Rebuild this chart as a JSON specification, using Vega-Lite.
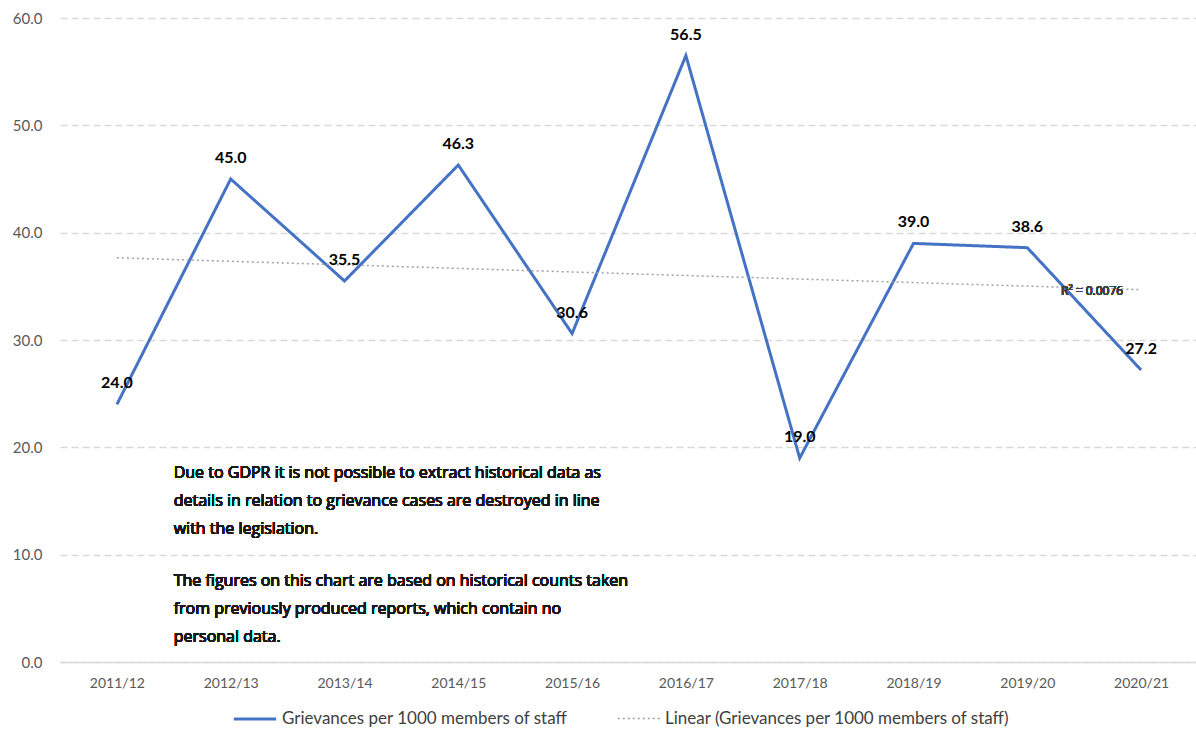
{
  "$schema": "https://vega.github.io/schema/vega-lite/v6.json",
  "autosize": {"type": "none"},
  "padding": {"left": 60, "top": 18, "right": 0, "bottom": 69},
  "width": 1138,
  "height": 644,
  "background": "white",
  "config": {
    "view": {"stroke": null},
    "font": "Lato",
    "axis": {"labelFont": "Lato", "labelColor": "#595959"},
    "legend": {
      "title": null,
      "orient": "none",
      "direction": "horizontal",
      "legendX": 172,
      "legendY": 678,
      "symbolType": "stroke",
      "symbolSize": 1800,
      "labelFontSize": 17,
      "labelFont": "Lato",
      "labelColor": "#404040",
      "columnPadding": 46,
      "labelLimit": 500
    }
  },
  "data": {
    "values": [
      {"year": "2011/12", "series": "Grievances per 1000 members of staff", "value": 24.0},
      {"year": "2012/13", "series": "Grievances per 1000 members of staff", "value": 45.0},
      {"year": "2013/14", "series": "Grievances per 1000 members of staff", "value": 35.5},
      {"year": "2014/15", "series": "Grievances per 1000 members of staff", "value": 46.3},
      {"year": "2015/16", "series": "Grievances per 1000 members of staff", "value": 30.6},
      {"year": "2016/17", "series": "Grievances per 1000 members of staff", "value": 56.5},
      {"year": "2017/18", "series": "Grievances per 1000 members of staff", "value": 19.0},
      {"year": "2018/19", "series": "Grievances per 1000 members of staff", "value": 39.0},
      {"year": "2019/20", "series": "Grievances per 1000 members of staff", "value": 38.6},
      {"year": "2020/21", "series": "Grievances per 1000 members of staff", "value": 27.2},
      {"year": "2011/12", "series": "Linear (Grievances per 1000 members of staff)", "value": 37.66},
      {"year": "2012/13", "series": "Linear (Grievances per 1000 members of staff)", "value": 37.33},
      {"year": "2013/14", "series": "Linear (Grievances per 1000 members of staff)", "value": 37.0},
      {"year": "2014/15", "series": "Linear (Grievances per 1000 members of staff)", "value": 36.67},
      {"year": "2015/16", "series": "Linear (Grievances per 1000 members of staff)", "value": 36.34},
      {"year": "2016/17", "series": "Linear (Grievances per 1000 members of staff)", "value": 36.01},
      {"year": "2017/18", "series": "Linear (Grievances per 1000 members of staff)", "value": 35.68},
      {"year": "2018/19", "series": "Linear (Grievances per 1000 members of staff)", "value": 35.35},
      {"year": "2019/20", "series": "Linear (Grievances per 1000 members of staff)", "value": 35.02},
      {"year": "2020/21", "series": "Linear (Grievances per 1000 members of staff)", "value": 34.69}
    ]
  },
  "encoding": {
    "x": {
      "field": "year",
      "type": "nominal",
      "sort": null,
      "scale": {"type": "point", "padding": 0.5},
      "axis": {
        "title": null,
        "labelAngle": 0,
        "ticks": false,
        "labelFontSize": 14,
        "labelPadding": 14,
        "domainColor": "#d9d9d9",
        "domainWidth": 1.5,
        "grid": false
      }
    },
    "y": {
      "field": "value",
      "type": "quantitative",
      "scale": {"domain": [0, 60], "nice": false},
      "axis": {
        "title": null,
        "values": [0, 10, 20, 30, 40, 50, 60],
        "format": ".1f",
        "domain": false,
        "ticks": false,
        "labelFontSize": 15,
        "labelPadding": 18,
        "gridColor": "#d9d9d9",
        "gridDash": [7, 4],
        "gridWidth": 1.3
      }
    }
  },
  "layer": [
    {
      "mark": {"type": "line"},
      "encoding": {
        "color": {
          "field": "series",
          "type": "nominal",
          "scale": {
            "domain": ["Grievances per 1000 members of staff", "Linear (Grievances per 1000 members of staff)"],
            "range": ["#4472C4", "#A0A0A0"]
          }
        },
        "strokeDash": {
          "field": "series",
          "type": "nominal",
          "scale": {
            "domain": ["Grievances per 1000 members of staff", "Linear (Grievances per 1000 members of staff)"],
            "range": [[1, 0], [2, 3]]
          }
        },
        "strokeWidth": {
          "field": "series",
          "type": "nominal",
          "scale": {
            "domain": ["Grievances per 1000 members of staff", "Linear (Grievances per 1000 members of staff)"],
            "range": [3, 1.5]
          }
        }
      }
    },
    {
      "transform": [{"filter": "datum.series === 'Grievances per 1000 members of staff'"}],
      "mark": {"type": "text", "fontWeight": "bold", "fontSize": 16, "dy": -21, "baseline": "middle", "color": "#000000", "font": "Lato"},
      "encoding": {
        "text": {"field": "value", "type": "quantitative", "format": ".1f"}
      }
    },
    {
      "mark": {"type": "text", "fontSize": 12, "fontWeight": "normal", "color": "#404040", "dx": -49, "baseline": "middle", "font": "Open Sans"},
      "encoding": {
        "x": {"datum": "2020/21"},
        "y": {"datum": 34.57},
        "text": {"value": "R² = 0.0076"}
      }
    },
    {
      "mark": {"type": "text", "fontSize": 16, "fontWeight": "normal", "color": "#1a1a1a", "align": "left", "baseline": "alphabetic", "dx": -57, "lineHeight": 28, "font": "Open Sans"},
      "encoding": {
        "x": {"datum": "2012/13"},
        "y": {"datum": 17.14},
        "text": {"value": ["Due to GDPR it is not possible to extract historical data as", "details in relation to grievance cases are destroyed in line", "with the legislation."]}
      }
    },
    {
      "mark": {"type": "text", "fontSize": 16, "fontWeight": "normal", "color": "#1a1a1a", "align": "left", "baseline": "alphabetic", "dx": -57, "lineHeight": 28, "font": "Open Sans"},
      "encoding": {
        "x": {"datum": "2012/13"},
        "y": {"datum": 7.08},
        "text": {"value": ["The figures on this chart are based on historical counts taken", "from previously produced reports, which contain no", "personal data."]}
      }
    }
  ]
}
